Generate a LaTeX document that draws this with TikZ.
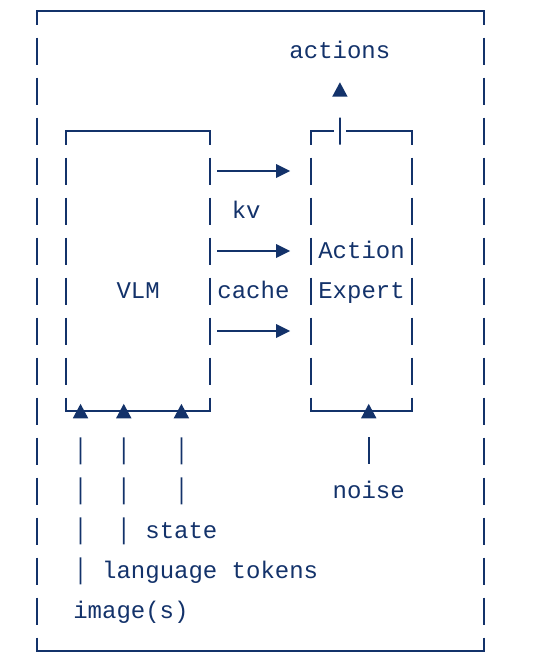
\documentclass[tikz,border=0pt]{standalone}
\usepackage{fontspec}
\newfontfamily\monofam{Liberation Mono}
\usetikzlibrary{arrows.meta,calc}
\definecolor{ink}{HTML}{13326A}
\tikzset{
  inkline/.style={draw=ink, line width=1.8pt},
  hline/.style={inkline, line cap=rect},
  vline/.style={inkline, dash pattern=on 27pt off 13pt, dash phase=13.5pt},
  boxnode/.style={rectangle, draw=none, inner sep=0pt, outer sep=0pt},
  lbl/.style={font=\monofam\fontsize{24pt}{40pt}\selectfont, text=ink, inner sep=0pt, outer sep=0pt, anchor=base west},
  harrow/.style={inkline, -{Triangle[length=14pt,width=13.5pt]}, shorten <=7.2pt, shorten >=21pt},
  uparrow/.style={inkline, {Triangle[length=14.5pt,width=15pt]}-, shorten <=-7.2pt},
  segsone/.style={dash pattern=on 0pt off 19.5pt on 27pt off 400pt},
  segstwo/.style={dash pattern=on 0pt off 19.5pt on 27pt off 13pt on 27pt off 400pt},
  segsthree/.style={dash pattern=on 0pt off 19.5pt on 27pt off 13pt on 27pt off 13pt on 27pt off 400pt},
  segsfour/.style={dash pattern=on 0pt off 19.5pt on 27pt off 13pt on 27pt off 13pt on 27pt off 13pt on 27pt off 400pt},
  outarrow/.style={inkline, -{Triangle[length=14.5pt,width=15pt]}, shorten <=-13.5pt, shorten >=24pt, dash pattern=on 27pt off 400pt}
}
\begin{document}
\begin{tikzpicture}[x=1pt,y=-1pt]
\useasboundingbox (0,0) rectangle (542,665);

% boxes
\node[boxnode, minimum width=446.71pt, minimum height=640pt] (frame) at (260.66,331) {};
\node[boxnode, minimum width=144.1pt, minimum height=280pt] (vlm) at (138.17,271) {};
\node[boxnode, minimum width=100.87pt, minimum height=280pt] (ae) at (361.53,271) {};

% outer frame
\draw[hline] (frame.north west) -- (frame.north east);
\draw[hline] (frame.south west) -- (frame.south east);
\draw[vline] (frame.north west) -- (frame.south west);
\draw[vline] (frame.north east) -- (frame.south east);

% VLM box
\draw[hline] (vlm.north west) -- (vlm.north east);
\draw[hline] (vlm.south west) -- (vlm.south east);
\draw[vline] (vlm.north west) -- (vlm.south west);
\draw[vline] (vlm.north east) -- (vlm.south east);

% Action Expert box
\draw[hline] (ae.north west) -- ($(ae.north west)+(21.615,0)$);
\draw[hline] ($(ae.north west)+(36.025,0)$) -- (ae.north east);
\draw[hline] (ae.south west) -- (ae.south east);
\draw[vline] (ae.north west) -- (ae.south west);
\draw[vline] (ae.north east) -- (ae.south east);

% labels
\node[lbl] (actions) at (289.48,58) {actions};
\node[lbl] (kv) at (231.84,218) {kv};
\node[lbl] (cache) at (217.43,298) {cache};
\node[lbl] (vlmtext) at (116.56,298) {VLM};
\node[lbl] (aetop) at (318.3,258) {Action};
\node[lbl] (aebot) at (318.3,298) {Expert};
\node[lbl] (noise) at (332.71,498) {noise};
\node[lbl] (state) at (145.38,538) {state};
\node[lbl] (lang) at (102.15,578) {language tokens};
\node[lbl] (img) at (73.33,618) {image(s)};

% kv cache arrows
\foreach \dy in {40,120,200}{
  \draw[harrow] ($(vlm.north east)+(0,\dy)$) -- ($(ae.north west)+(0,\dy)$);
}

% inputs into the VLM
\draw[uparrow, segsfour] ($(vlm.south west)+(14.41,0)$) -- ($(img.north west)+(7.205,0)$);
\draw[uparrow, segsthree] ($(vlm.south west)+(57.64,0)$) -- ($(lang.north west)+(21.615,0)$);
\draw[uparrow, segstwo] ($(vlm.south west)+(115.28,0)$) -- ($(state.north west)+(36.025,0)$);

% noise into the Action Expert
\draw[uparrow, segsone] ($(ae.south west)+(57.64,0)$) -- ($(noise.north west)+(36.025,0)$);

% actions out of the Action Expert
\draw[outarrow] ($(ae.north west)+(28.82,0)$) -- ($(actions.south west)+(50.43,0)$);
\end{tikzpicture}
\end{document}
